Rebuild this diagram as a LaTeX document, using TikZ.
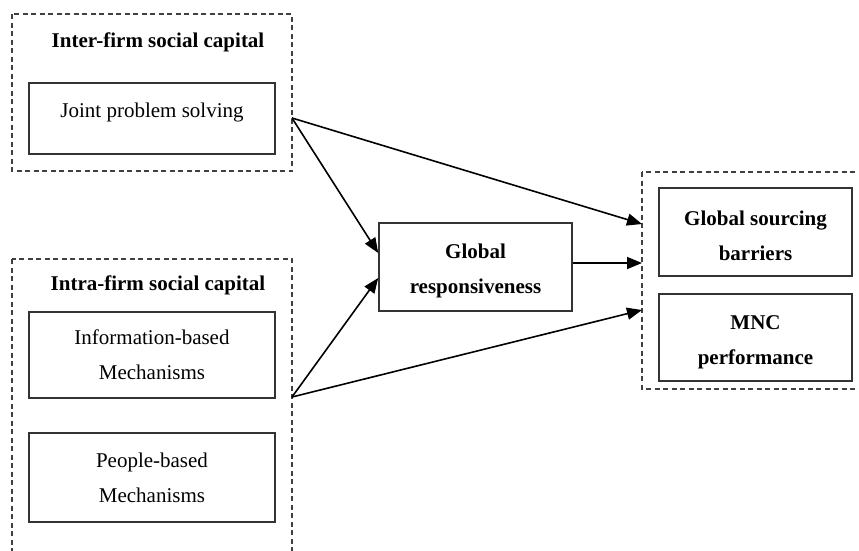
\documentclass[tikz,border=0pt]{standalone}
\usepackage{fontspec}
\setmainfont{Liberation Serif}
\usetikzlibrary{arrows.meta}

\begin{document}
\begin{tikzpicture}[x=1pt,y=-1pt,
    font=\fontsize{21}{35}\selectfont,
    grp/.style={draw=black!75,line width=1.2pt,dash pattern=on 5pt off 3.5pt},
    box/.style={draw=black!80,line width=1.6pt,align=center,inner sep=0pt},
    wide/.style={box,minimum width=246,minimum height=#1},
    narrow/.style={box,minimum width=193,minimum height=#1,font=\fontsize{21}{35}\selectfont\bfseries},
    link/.style={line width=1.6pt,-{Triangle[length=15pt,width=12pt]}}]
  \useasboundingbox (0,0) rectangle (859,550);
  % dashed groups
  \draw[grp] (12,14) rectangle (292,171);
  \draw[grp] (12,259) rectangle (292,580);
  \draw[grp] (642,172) rectangle (880,389);
  \node[font=\fontsize{21}{35}\selectfont\bfseries] (intertitle) at (158,42) {Inter-firm social capital};
  \node[font=\fontsize{21}{35}\selectfont\bfseries] (intratitle) at (158,285) {Intra-firm social capital};
  % boxes
  \node[wide=71] (joint) at (152,118.5) {Joint problem solving\rule[-17pt]{0pt}{0pt}};
  \node[wide=86] (info) at (152,355) {Information-based\\Mechanisms};
  \node[wide=89] (people) at (152,477.5) {People-based\\Mechanisms};
  \node[narrow=88] (global) at (475.5,267) {\rule{0pt}{23pt}Global\\responsiveness};
  \node[narrow=88] (sourcing) at (755.5,232) {\rule{0pt}{23pt}Global sourcing\\barriers};
  \node[narrow=87] (mnc) at (755.5,337.5) {\rule{0pt}{23pt}MNC\\performance};
  % ends of the arrows on the dashed groups
  \coordinate (interout) at (292,118);
  \coordinate (intraout) at (292,397);
  \coordinate (intop) at (642,224);
  \coordinate (inmid) at (642,263);
  \coordinate (inlow) at (642,310);
  \draw[link] (interout) -- (intop);
  \draw[link] (interout) -- (global.west |- 0,253);
  \draw[link] (intraout) -- (global.west |- 0,278);
  \draw[link] (intraout) -- (inlow);
  \draw[link] (global.east |- inmid) -- (inmid);
\end{tikzpicture}
\end{document}
